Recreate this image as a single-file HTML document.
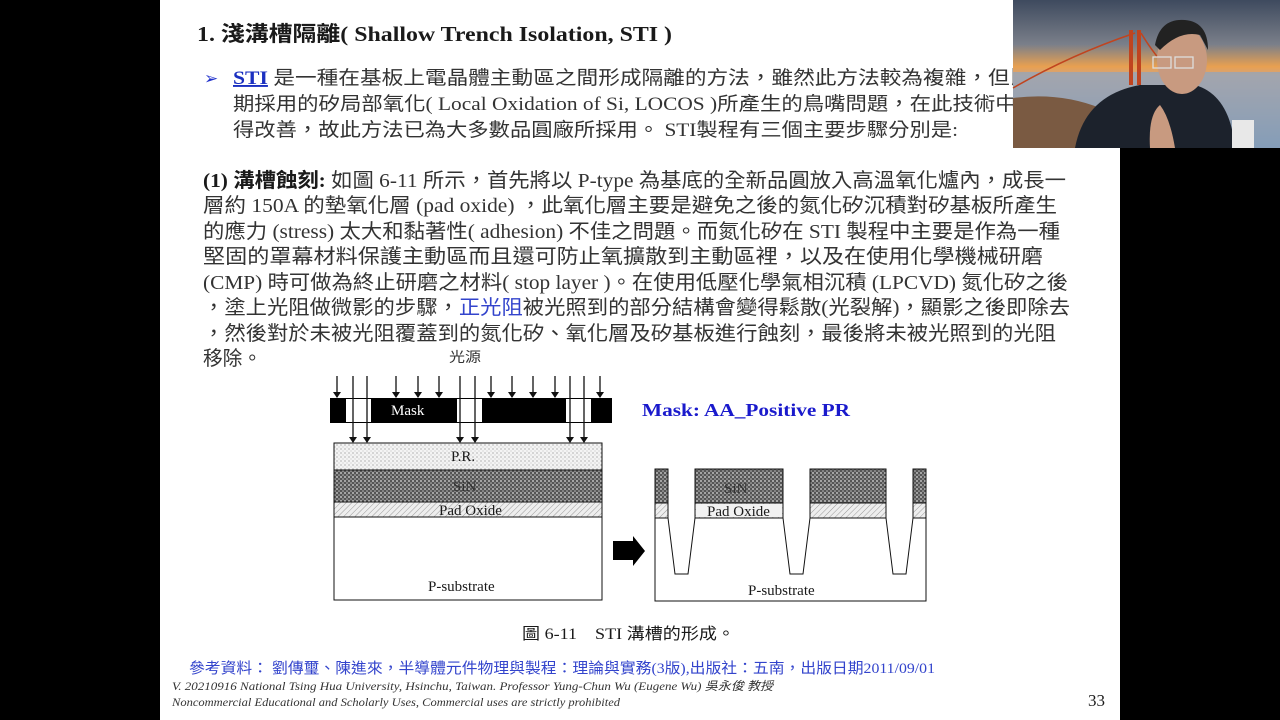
<!DOCTYPE html>
<html><head><meta charset="utf-8"><style>
html,body{margin:0;padding:0;background:#000;width:1280px;height:720px;overflow:hidden}
svg{display:block}
text{font-family:"Liberation Serif","Noto Sans CJK TC",serif;fill:#333}
.b{fill:#1a1a1a}
</style></head><body>
<svg width="1280" height="720" viewBox="0 0 1280 720" xmlns="http://www.w3.org/2000/svg">
<defs>
<pattern id="pr" width="4" height="4" patternUnits="userSpaceOnUse"><rect width="4" height="4" fill="#f4f4f4"/><circle cx="1" cy="1" r="0.6" fill="#888"/><circle cx="3" cy="3" r="0.5" fill="#aaa"/></pattern>
<pattern id="sin" width="4" height="4" patternUnits="userSpaceOnUse"><rect width="4" height="4" fill="#555"/><circle cx="1" cy="1" r="0.9" fill="#ddd"/><circle cx="3" cy="3" r="0.8" fill="#bbb"/></pattern>
<pattern id="pad" width="4" height="4" patternUnits="userSpaceOnUse" patternTransform="rotate(45)"><rect width="4" height="4" fill="#eee"/><line x1="0" y1="0" x2="0" y2="4" stroke="#999" stroke-width="1"/></pattern>
<marker id="ah" markerWidth="6" markerHeight="8" refX="5" refY="4" orient="auto" markerUnits="userSpaceOnUse"><path d="M0,0 L6,4 L0,8 Z" fill="#111"/></marker>
<linearGradient id="sky" x1="0" y1="0" x2="0" y2="1"><stop offset="0" stop-color="#3e4a5e"/><stop offset="0.3" stop-color="#7a7f8a"/><stop offset="0.45" stop-color="#e8a050"/><stop offset="0.52" stop-color="#cfa486"/><stop offset="1" stop-color="#6e8aa8"/></linearGradient>
</defs>
<rect x="160" y="0" width="960" height="720" fill="#fff"/>

<text x="197" y="41" font-size="21" font-weight="bold" textLength="475" lengthAdjust="spacingAndGlyphs" class="b">1. 淺溝槽隔離( Shallow Trench Isolation, STI )</text>

<text x="204" y="84" font-size="17" style="fill:#2233cc">➢</text>
<text x="233" y="84" font-size="19" textLength="820" lengthAdjust="spacingAndGlyphs"><tspan style="fill:#1a2fc0;text-decoration:underline;font-weight:bold">STI</tspan> 是一種在基板上電晶體主動區之間形成隔離的方法，雖然此方法較為複雜，但比早</text>
<text x="233" y="110" font-size="19" textLength="805" lengthAdjust="spacingAndGlyphs">期採用的矽局部氧化( Local Oxidation of Si, LOCOS )所產生的鳥嘴問題，在此技術中獲</text>
<text x="233" y="136" font-size="19" textLength="725" lengthAdjust="spacingAndGlyphs">得改善，故此方法已為大多數品圓廠所採用。 STI製程有三個主要步驟分別是:</text>

<text x="203" y="187" font-size="20" textLength="863" lengthAdjust="spacingAndGlyphs"><tspan font-weight="bold" class="b">(1) 溝槽蝕刻:</tspan> 如圖 6-11 所示，首先將以 P-type 為基底的全新品圓放入高溫氧化爐內，成長一</text>
<text x="203" y="212" font-size="20" textLength="854" lengthAdjust="spacingAndGlyphs">層約 150A 的墊氧化層 (pad oxide) ，此氧化層主要是避免之後的氮化矽沉積對矽基板所產生</text>
<text x="203" y="238" font-size="20" textLength="857" lengthAdjust="spacingAndGlyphs">的應力 (stress) 太大和黏著性( adhesion) 不佳之問題。而氮化矽在 STI 製程中主要是作為一種</text>
<text x="203" y="263" font-size="20" textLength="840" lengthAdjust="spacingAndGlyphs">堅固的罩幕材料保護主動區而且還可防止氧擴散到主動區裡，以及在使用化學機械研磨</text>
<text x="203" y="289" font-size="20" textLength="865" lengthAdjust="spacingAndGlyphs">(CMP) 時可做為終止研磨之材料( stop layer )。在使用低壓化學氣相沉積 (LPCVD) 氮化矽之後</text>
<text x="203" y="314" font-size="20" textLength="867" lengthAdjust="spacingAndGlyphs">，塗上光阻做微影的步驟，<tspan style="fill:#3344cc">正光阻</tspan>被光照到的部分結構會變得鬆散(光裂解)，顯影之後即除去</text>
<text x="203" y="340" font-size="20" textLength="853" lengthAdjust="spacingAndGlyphs">，然後對於未被光阻覆蓋到的氮化矽、氧化層及矽基板進行蝕刻，最後將未被光照到的光阻</text>
<text x="203" y="365" font-size="20" textLength="59" lengthAdjust="spacingAndGlyphs">移除。</text>

<text x="449" y="362" font-size="14" textLength="32" lengthAdjust="spacingAndGlyphs">光源</text>
<g stroke="#111" stroke-width="1.3" marker-end="url(#ah)">
<line x1="337" y1="376" x2="337" y2="397"/>
<line x1="396" y1="376" x2="396" y2="397"/>
<line x1="418" y1="376" x2="418" y2="397"/>
<line x1="439" y1="376" x2="439" y2="397"/>
<line x1="491" y1="376" x2="491" y2="397"/>
<line x1="512" y1="376" x2="512" y2="397"/>
<line x1="533" y1="376" x2="533" y2="397"/>
<line x1="555" y1="376" x2="555" y2="397"/>
<line x1="600" y1="376" x2="600" y2="397"/>
<line x1="353" y1="376" x2="353" y2="442"/>
<line x1="367" y1="376" x2="367" y2="442"/>
<line x1="460" y1="376" x2="460" y2="442"/>
<line x1="475" y1="376" x2="475" y2="442"/>
<line x1="570" y1="376" x2="570" y2="442"/>
<line x1="584" y1="376" x2="584" y2="442"/>
</g>
<rect x="330" y="398" width="282" height="25" fill="#000"/>
<rect x="346" y="399" width="25" height="23" fill="#fff"/>
<rect x="457" y="399" width="25" height="23" fill="#fff"/>
<rect x="566" y="399" width="25" height="23" fill="#fff"/>
<line x1="353" y1="398" x2="353" y2="423" stroke="#111" stroke-width="1.3"/>
<line x1="367" y1="398" x2="367" y2="423" stroke="#111" stroke-width="1.3"/>
<line x1="460" y1="398" x2="460" y2="423" stroke="#111" stroke-width="1.3"/>
<line x1="475" y1="398" x2="475" y2="423" stroke="#111" stroke-width="1.3"/>
<line x1="570" y1="398" x2="570" y2="423" stroke="#111" stroke-width="1.3"/>
<line x1="584" y1="398" x2="584" y2="423" stroke="#111" stroke-width="1.3"/>
<text x="391" y="415" font-size="15" style="fill:#fff">Mask</text>

<text x="642" y="416" font-size="18" font-weight="bold" style="fill:#1a1acc" textLength="208" lengthAdjust="spacingAndGlyphs">Mask: AA_Positive PR</text>

<rect x="334" y="443" width="268" height="27" fill="url(#pr)" stroke="#111"/>
<rect x="334" y="470" width="268" height="32" fill="url(#sin)" stroke="#111"/>
<rect x="334" y="502" width="268" height="15" fill="url(#pad)" stroke="#111"/>
<rect x="334" y="517" width="268" height="83" fill="#fff" stroke="#111"/>
<text x="451" y="461" font-size="15" class="b">P.R.</text>
<text x="453" y="491" font-size="15" style="fill:#333">SiN</text>
<text x="439" y="515" font-size="15" class="b">Pad Oxide</text>
<text x="428" y="591" font-size="15" class="b">P-substrate</text>

<path d="M613,541 L633,541 L633,536 L645,551 L633,566 L633,560 L613,560 Z" fill="#000"/>

<path d="M655,518 L668,518 L675,574 L688,574 L695,518 L783,518 L790,574 L803,574 L810,518 L886,518 L893,574 L906,574 L913,518 L926,518 L926,601 L655,601 Z" fill="#fff" stroke="#111"/>
<g stroke="#111">
<rect x="655" y="469" width="13" height="34" fill="url(#sin)"/>
<rect x="655" y="503" width="13" height="15" fill="url(#pad)"/>
<rect x="695" y="469" width="88" height="34" fill="url(#sin)"/>
<rect x="695" y="503" width="88" height="15" fill="url(#pad)"/>
<rect x="810" y="469" width="76" height="34" fill="url(#sin)"/>
<rect x="810" y="503" width="76" height="15" fill="url(#pad)"/>
<rect x="913" y="469" width="13" height="34" fill="url(#sin)"/>
<rect x="913" y="503" width="13" height="15" fill="url(#pad)"/>
</g>
<rect x="696" y="504" width="86" height="13" fill="#f2f2f2"/>
<text x="707" y="516" font-size="15" class="b">Pad Oxide</text>
<text x="724" y="493" font-size="15" style="fill:#333">SiN</text>
<text x="748" y="595" font-size="15" class="b">P-substrate</text>

<text x="522" y="639" font-size="16" textLength="213" lengthAdjust="spacingAndGlyphs" class="b">圖 6-11　STI 溝槽的形成。</text>

<text x="189" y="673" font-size="15" style="fill:#3344cc" textLength="746" lengthAdjust="spacingAndGlyphs">參考資料： 劉傳璽、陳進來，半導體元件物理與製程：理論與實務(3版),出版社：五南，出版日期2011/09/01</text>
<text x="172" y="690" font-size="12" font-style="italic" textLength="601" lengthAdjust="spacingAndGlyphs">V. 20210916 National Tsing Hua University, Hsinchu, Taiwan. Professor Yung-Chun Wu (Eugene Wu) 吳永俊 教授</text>
<text x="172" y="706" font-size="12" font-style="italic" textLength="448" lengthAdjust="spacingAndGlyphs">Noncommercial Educational and Scholarly Uses, Commercial uses are strictly prohibited</text>
<text x="1088" y="706" font-size="17" class="b">33</text>

<rect x="1013" y="0" width="267" height="148" fill="url(#sky)"/>
<rect x="1013" y="72" width="267" height="76" fill="#8ea5bf" opacity="0.7"/>
<path d="M1013,88 Q1070,55 1135,33 M1141,33 Q1150,48 1160,60" stroke="#c0441f" stroke-width="1.5" fill="none"/>
<rect x="1129" y="30" width="4" height="55" fill="#c0441f"/>
<rect x="1137" y="30" width="4" height="55" fill="#c0441f"/>
<path d="M1013,98 L1013,148 L1080,148 L1100,108 Q1060,92 1013,98 Z" fill="#7a5a42"/>
<path d="M1075,148 Q1085,95 1140,85 L1195,85 Q1230,95 1235,148 Z" fill="#1c222c"/>
<ellipse cx="1182" cy="60" rx="25" ry="34" fill="#c89a80"/>
<path d="M1155,45 Q1160,18 1185,20 Q1208,22 1208,50 L1200,35 Q1180,30 1160,50 Z" fill="#222"/>
<rect x="1153" y="57" width="18" height="11" fill="none" stroke="#ddd" stroke-width="1.3"/>
<rect x="1175" y="57" width="18" height="11" fill="none" stroke="#ddd" stroke-width="1.3"/>
<path d="M1150,148 Q1148,115 1160,105 Q1170,118 1175,148 Z" fill="#c89a80"/>
<rect x="1232" y="120" width="22" height="28" fill="#e8e8e8"/>
</svg>
</body></html>
